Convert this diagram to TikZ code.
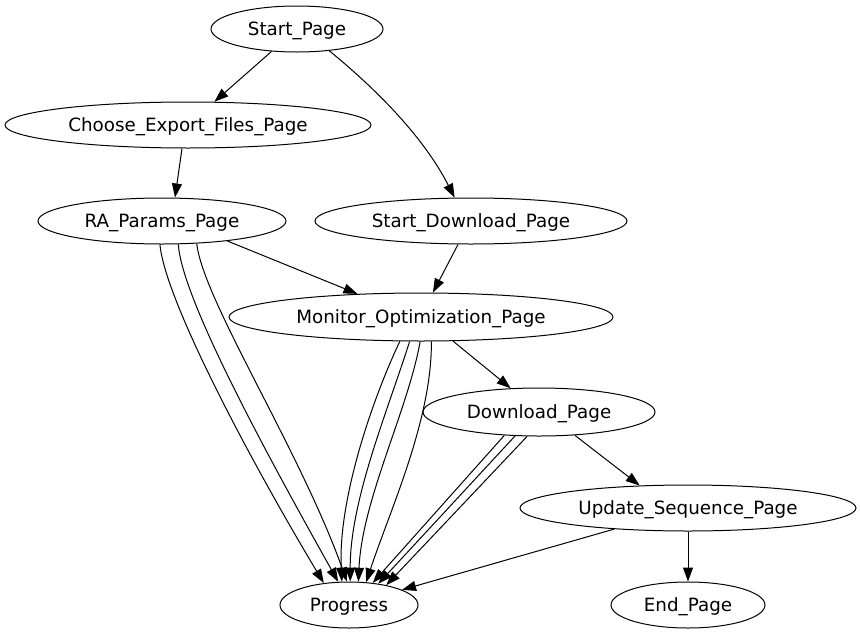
\documentclass[tikz,border=0pt]{standalone}
\usepackage{fontspec}
\setmainfont{DejaVu Sans}
\usetikzlibrary{shapes.geometric,arrows.meta}
\begin{document}
\begin{tikzpicture}[x=1pt,y=-1pt,
  gnode/.style={ellipse,draw,line width=1pt,inner sep=0pt,minimum height=46pt,
    text height=14pt,text depth=2pt,
    font=\fontsize{18.3}{22}\selectfont},
  edge/.style={line width=1pt,-{Triangle[length=14pt,width=10pt]}}]
\useasboundingbox (0,0) rectangle (860,635);
\node[gnode,minimum width=172pt] (start) at (297,29) {Start\_Page};
\node[gnode,minimum width=366pt] (choose) at (188,125) {Choose\_Export\_Files\_Page};
\node[gnode,minimum width=248pt] (ra) at (162,221) {RA\_Params\_Page};
\node[gnode,minimum width=312pt] (sd) at (471,221) {Start\_Download\_Page};
\node[gnode,minimum width=384pt,minimum height=48pt] (mon) at (421,317) {Monitor\_Optimization\_Page};
\node[gnode,minimum width=232pt,minimum height=48pt] (dl) at (539,412) {Download\_Page};
\node[gnode,minimum width=336pt] (upd) at (688,508) {Update\_Sequence\_Page};
\node[gnode,minimum width=138pt] (prog) at (349,605) {Progress};
\node[gnode,minimum width=154pt] (endp) at (688,605) {End\_Page};

\draw[edge] (start) -- (choose);
\draw[edge] (start.-34) .. controls (365,80) and (420,130) .. (sd.125);
\draw[edge] ([xshift=-6pt]choose.south) -- ([xshift=13pt]ra.north);
\draw[edge] (ra.-17) -- (mon.160);
\draw[edge] (sd.-119.5) -- (mon.64.4);
\draw[edge] (mon.-37.7) -- (dl.140.4);
\draw[edge] (dl.-33.7) -- (upd.155.6);
\draw[edge] (upd) -- (prog);
\draw[edge] (upd) -- (endp);

% RA_Params_Page -> Progress (x3)
\draw[edge] (ra.-95) .. controls (165,300) and (250,460) .. (prog.139.8);
\draw[edge] (ra.-55) .. controls (182,300) and (270,460) .. (prog.115.6);
\draw[edge] (ra.-33) .. controls (203,300) and (300,450) .. (prog.95);
% Monitor_Optimization_Page -> Progress (x4)
\draw[edge] (mon.-131) .. controls (372,400) and (338,500) .. (prog.107);
\draw[edge] (mon.-115) .. controls (388,410) and (350,500) .. (prog.87.5);
\draw[edge] (mon.-92) .. controls (408,410) and (362,500) .. (prog.68.6);
\draw[edge] (mon.-67) .. controls (432,420) and (390,510) .. (prog.53.5);
% Download_Page -> Progress (x3)
\draw[edge] (dl.-146.3) -- (prog.43.7);
\draw[edge] (dl.-135) -- (prog.36.3);
\draw[edge] (dl.-116.6) -- (prog.28.3);
\end{tikzpicture}
\end{document}
